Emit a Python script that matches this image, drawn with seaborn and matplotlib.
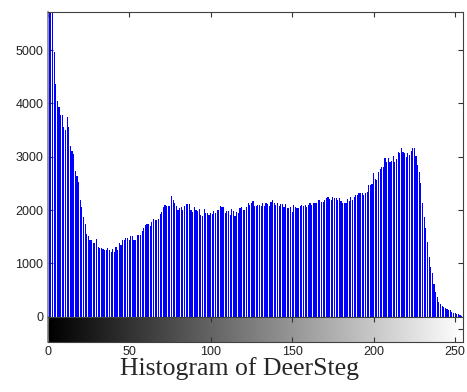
import numpy as np
import matplotlib
matplotlib.use('Agg')
import matplotlib.pyplot as plt
import seaborn as sns

# grey levels and pixel counts (first bins run off the top)
levels = list(range(256))
counts = [
    9200, 7800, 6900, 6100, 4970, 4370, 4050, 3940, 3790, 3780,
    3550, 3500, 3750, 3550, 3210, 3110, 3050, 2740, 2630, 2530,
    2190, 2060, 1870, 1740, 1560, 1510, 1430, 1430, 1390, 1380,
    1460, 1300, 1290, 1280, 1265, 1260, 1250, 1290, 1250, 1220,
    1270, 1220, 1310, 1250, 1380, 1350, 1430, 1430, 1470, 1470,
    1440, 1510, 1510, 1430, 1430, 1530, 1530, 1530, 1610, 1660,
    1720, 1740, 1740, 1700, 1780, 1830, 1810, 1810, 1830, 1930,
    1960, 2050, 2100, 2080, 2080, 2080, 2260, 2190, 2130, 2080,
    2010, 2030, 2050, 2010, 2080, 2110, 2110, 2110, 2000, 1970,
    2050, 2000, 1990, 2020, 1910, 1890, 2020, 1940, 1950, 1910,
    1940, 1930, 1985, 1950, 2000, 2000, 2080, 2050, 2050, 1940,
    1985, 1985, 1910, 2020, 1990, 1880, 1960, 1950, 2030, 2050,
    2000, 2000, 2050, 2130, 2095, 2130, 2170, 2080, 2080, 2095,
    2090, 2080, 2130, 2080, 2130, 2110, 2080, 2160, 2180, 2140,
    2095, 2140, 2080, 2110, 2110, 2050, 2110, 2030, 2030, 2065,
    1970, 2095, 2065, 2030, 2030, 2080, 2095, 2080, 2095, 2050,
    2095, 2130, 2095, 2130, 2130, 2140, 2180, 2190, 2160, 2160,
    2190, 2220, 2240, 2200, 2180, 2240, 2230, 2233, 2190, 2220,
    2176, 2140, 2140, 2127, 2200, 2176, 2250, 2190, 2240, 2277,
    2283, 2315, 2315, 2315, 2283, 2315, 2346, 2471, 2471, 2490,
    2690, 2577, 2565, 2721, 2765, 2803, 2803, 2971, 2909, 2971,
    2909, 2928, 3015, 2909, 2953, 3090, 3065, 3159, 3096, 3077,
    3003, 3065, 3034, 3115, 3159, 3159, 3015, 2846, 2721, 2503,
    2140, 1864, 1657, 1407, 1126, 938, 813, 613, 469, 375,
    282, 238, 200, 188, 156, 138, 125, 120, 94, 75,
    63, 50, 44, 31, 19, 10,
]
xticks = [0, 50, 100, 150, 200, 250]
yticks = [0, 1000, 2000, 3000, 4000, 5000]
title = 'Histogram of DeerSteg'

sns.set_style('ticks')
plt.rcParams['font.family'] = ['Liberation Sans', 'DejaVu Sans']

fig = plt.figure(figsize=(4.67, 3.92), dpi=100)
ax = fig.add_axes([0.1019, 0.1921, 0.8902, 0.7773])
cb = fig.add_axes([0.1019, 0.1268, 0.8902, 0.0653])

# stems of the histogram
sns.histplot(x=levels, weights=counts, discrete=True, shrink=0.7,
             color='blue', alpha=1, linewidth=0, ax=ax)
ax.set_xlim(0, 255)
ax.set_ylim(0, 5716)
ax.set_xticks(xticks)
ax.set_yticks(yticks)
ax.set_xlabel('')
ax.set_ylabel('')
ax.tick_params(direction='in', length=3.5, width=0.8, color='#333333',
               top=True, right=True, bottom=False, labelbottom=False,
               labelsize=9, pad=3, labelcolor='#222222')
for side in ['top', 'right']:
    ax.spines[side].set_color('#404040')
    ax.spines[side].set_linewidth(0.8)
ax.spines['left'].set_color('#808080')
ax.spines['left'].set_linewidth(1.2)
ax.spines['bottom'].set_visible(False)

# grey ramp under the axis
cb.imshow(np.array(levels)[None, :], cmap='gray', vmin=0, vmax=255,
          aspect='auto', extent=(0, 255, 0, 1))
cb.set_xlim(0, 255)
cb.set_ylim(0, 1)
cb.set_xticks(xticks)
cb.set_yticks([0.5])
cb.tick_params(axis='x', direction='in', length=3.5, width=0.8,
               color='#333333', top=True, bottom=True, labelsize=9,
               pad=3, labelcolor='#222222')
cb.tick_params(axis='y', direction='in', length=3.5, width=0.8,
               color='#333333', left=False, right=True, labelleft=False)
for side in cb.spines:
    cb.spines[side].set_color('#404040')
    cb.spines[side].set_linewidth(0.8)
cb.spines['left'].set_color('#808080')
cb.spines['left'].set_linewidth(1.2)

fig.text(0.512, 0.0434, title, ha='center', va='baseline',
         fontsize=18.5, family=['Liberation Serif', 'DejaVu Serif'])

fig.savefig('out.png', dpi=100, facecolor='white')
